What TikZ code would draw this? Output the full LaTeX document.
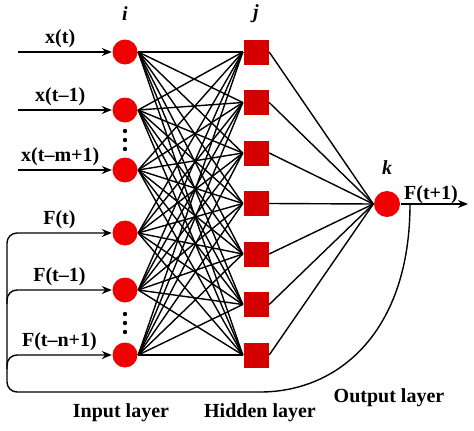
\documentclass[tikz,border=0pt]{standalone}
\usepackage{fontspec}
\setmainfont{Liberation Serif}
\usepackage{tikz}
\usetikzlibrary{arrows.meta,positioning}
\definecolor{inred}{RGB}{240,0,0}
\definecolor{hidred}{RGB}{212,0,0}

\begin{document}
\begin{tikzpicture}[x=1pt,y=-1pt,>={Stealth[length=10pt,width=8pt]},line width=1.4pt,
  font=\bfseries\fontsize{20}{24}\selectfont,node distance=50.5pt,
  neuron/.style={circle,fill=inred,inner sep=0pt,minimum size=25pt},
  hidden/.style={rectangle,fill=hidred,inner sep=0pt,minimum size=25pt}]

\useasboundingbox (0,0) rectangle (474,431);

\node[neuron] (i1) at (125,52)  {};
\node[neuron] (i2) at (125,110) {};
\node[neuron] (i3) at (125,170) {};
\node[neuron] (i4) at (125,233) {};
\node[neuron] (i5) at (125,290) {};
\node[neuron] (i6) at (125,355) {};

\node[hidden] (h1) at (256,52) {};
\node[hidden] (h2) [below of=h1] {};
\node[hidden] (h3) [below of=h2] {};
\node[hidden] (h4) [below of=h3] {};
\node[hidden] (h5) [below of=h4] {};
\node[hidden] (h6) [below of=h5] {};
\node[hidden] (h7) [below of=h6] {};

\node[neuron,minimum size=26pt] (o) at (387,204) {};

\node (li) [above of=i1,node distance=38pt] {\textit{i}};
\node (lj) [above of=h1,node distance=38pt] {\textit{j}};
\node (lk) [above of=o,node distance=36pt]  {\textit{k}};

\coordinate (a1) at (18,52);
\coordinate (a2) at (18,110);
\coordinate (a3) at (18,170);
\coordinate (y)  at (468,204);
\coordinate (fb) at (410,204);
\coordinate (fbr) at (260,392);
\coordinate (fbl) at (7,392);

\path
(i1.east) edge (h1.west) edge (h2.west) edge (h3.west) edge (h4.west) edge (h5.west) edge (h6.west) edge (h7.west)
(i2.east) edge (h1.west) edge (h2.west) edge (h3.west) edge (h4.west) edge (h5.west) edge (h6.west) edge (h7.west)
(i3.east) edge (h1.west) edge (h2.west) edge (h3.west) edge (h4.west) edge (h5.west) edge (h6.west) edge (h7.west)
(i4.east) edge (h1.west) edge (h2.west) edge (h3.west) edge (h4.west) edge (h5.west) edge (h6.west) edge (h7.west)
(i5.east) edge (h1.west) edge (h2.west) edge (h3.west) edge (h4.west) edge (h5.west) edge (h6.west) edge (h7.west)
(i6.east) edge (h1.west) edge (h2.west) edge (h3.west) edge (h4.west) edge (h5.west) edge (h6.west) edge (h7.west)

(o.west) edge (h1.east) edge (h2.east) edge (h3.east) edge (h4.east) edge (h5.east) edge (h6.east) edge (h7.east)
;

\draw[->] (a1) -- node[above,pos=0.45] {x(t)} (i1);
\draw[->] (a2) -- node[above,pos=0.45] {x(t--1)} (i2);
\draw[->] (a3) -- node[above,pos=0.45] {x(t--m+1)} (i3);
\draw[->] (o) -- node[above,inner sep=0pt,pos=0.45] {F(t+1)} (y);

\draw (fb) .. controls (410,330) and (340,392) .. (fbr);
\draw[->,rounded corners=10pt] (fbr) -- (fbl) |- node[above,pos=0.75] {F(t)} (i4);
\draw[->,rounded corners=10pt] ([yshift=-14pt]fbl |- i5) |- node[above,pos=0.75] {F(t--1)} (i5);
\draw[->,rounded corners=10pt] ([yshift=-14pt]fbl |- i6) |- node[above,pos=0.75] {F(t--n+1)} (i6);

\fill (125,131) circle (2.2pt) (125,140) circle (2.2pt) (125,149) circle (2.2pt);
\fill (125,314) circle (2.2pt) (125,323) circle (2.2pt) (125,332) circle (2.2pt);

\node (lin)  at (121,413) {Input layer};
\node (lhid) at (260,413) {Hidden layer};
\node (lout) at (389,398) {Output layer};

\end{tikzpicture}
\end{document}
